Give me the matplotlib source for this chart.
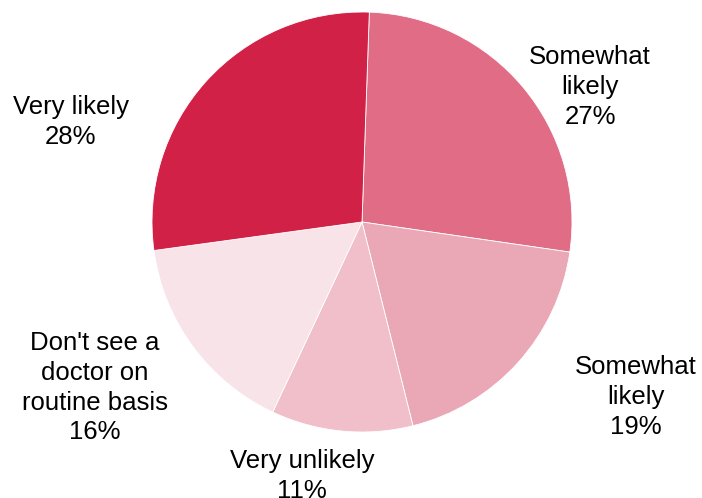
import matplotlib
matplotlib.use("Agg")
import matplotlib.pyplot as plt

# answers, clockwise from the top
categories = ["Somewhat\nlikely", "Somewhat\nlikely", "Very unlikely",
              "Don't see a\ndoctor on\nroutine basis", "Very likely"]
shares = [27, 19, 11, 16, 28]
colors = ["#E06C86", "#EAA7B5", "#F0BFCA", "#F7E3E8", "#D22147"]

# where each label sits, in pie-radius units
label_pos = [(1.086, 0.643), (1.305, -0.833), (-0.286, -1.21),
             (-1.271, -0.790), (-1.386, 0.476)]

plt.rcParams["font.family"] = ["Liberation Sans", "DejaVu Sans"]

fig = plt.figure(figsize=(7.02, 4.98), dpi=100)
ax = fig.add_axes([0, 0, 1, 1])

ax.pie(shares, colors=colors, startangle=88, counterclock=False, radius=1,
       wedgeprops=dict(edgecolor="white", linewidth=0.6))

for name, val, (x, y) in zip(categories, shares, label_pos):
    ax.text(x, y, f"{name}\n{val}%", ha="center", va="center",
            fontsize=18.5, linespacing=1.3, color="black")

ax.set_xlim(-362 / 210, 340 / 210)
ax.set_ylim(-276 / 210, 222 / 210)
ax.set_aspect("equal")
ax.axis("off")

fig.savefig("out.png", dpi=100)
